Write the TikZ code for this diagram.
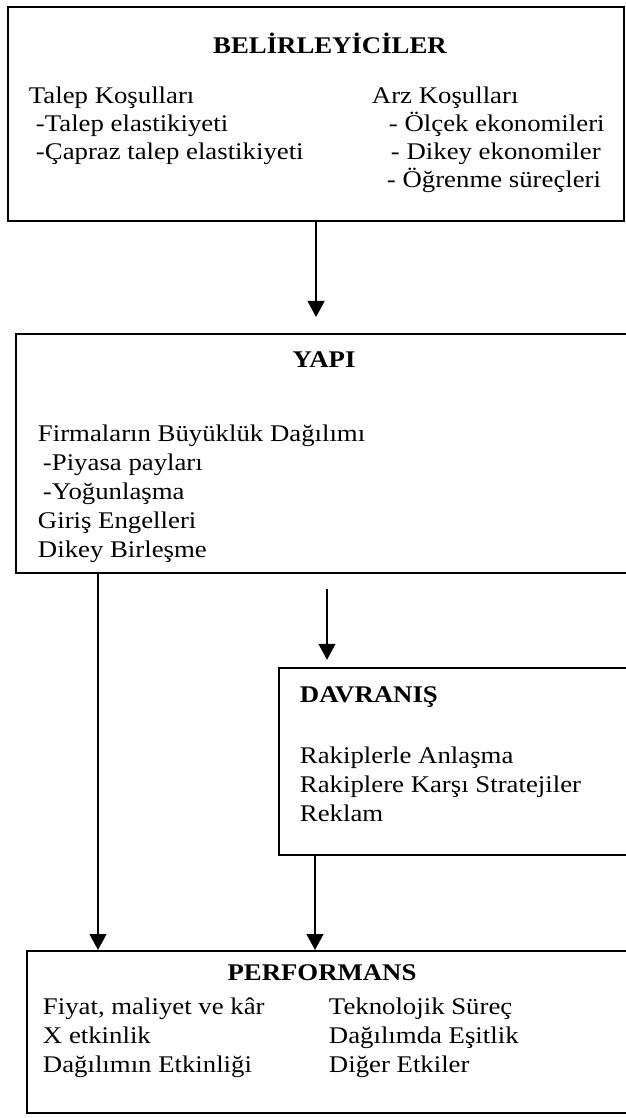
\documentclass[tikz,border=0pt]{standalone}
\usepackage{fontspec}
\setmainfont{Liberation Serif}[FakeStretch=1.12]
\usetikzlibrary{arrows.meta}

\begin{document}
\begin{tikzpicture}[x=0.025cm,y=-0.025cm,line width=1.4pt,
  every node/.append style={font=\fontsize{17}{20.5}\selectfont}]
\tikzstyle{box} = [draw,rectangle,anchor=north west,inner sep=0]
\tikzstyle{arr} = [-{Triangle[length=0.4cm,width=0.42cm]}]
\tikzstyle{txt} = [anchor=base west,inner sep=0]
\tikzstyle{ttl} = [anchor=base,inner sep=0,font=\fontsize{17}{20.5}\selectfont\bfseries]

\useasboundingbox (0,0) rectangle (625,1118);

% Belirleyiciler
\node[box,minimum width=15.4cm,minimum height=5.35cm] (belir) at (7,6) {};
\node[ttl] at (330,53) (belirttl) {BELİRLEYİCİLER};
\node[txt] at (28,103) (talep) {Talep Koşulları};
\node[txt] at (35,131) (talep1) {-Talep elastikiyeti};
\node[txt] at (35,159) (talep2) {-Çapraz talep elastikiyeti};
\node[txt] at (371,103) (arz) {Arz Koşulları};
\node[txt] at (388,131) (arz1) {- Ölçek ekonomileri};
\node[txt] at (390,159) (arz2) {- Dikey ekonomiler};
\node[txt] at (386,187) (arz3) {- Öğrenme süreçleri};

% Yapi
\node[box,minimum width=15.325cm,minimum height=5.975cm] (yapi) at (15,333) {};
\node[ttl] at (324,367) (yapittl) {YAPI};
\node[txt] at (37,441) (firma) {Firmaların Büyüklük Dağılımı};
\node[txt] at (42,470) (firma1) {-Piyasa payları};
\node[txt] at (42,499) (firma2) {-Yoğunlaşma};
\node[txt] at (37,528) (giris) {Giriş Engelleri};
\node[txt] at (37,557) (dikey) {Dikey Birleşme};

% Davranis
\node[box,minimum width=8.75cm,minimum height=4.675cm] (davr) at (278,667) {};
\node[txt,font=\fontsize{17}{20.5}\selectfont\bfseries] at (299,702) (davrttl) {DAVRANIŞ};
\node[txt] at (299,763) (rakip1) {Rakiplerle Anlaşma};
\node[txt] at (299,792) (rakip2) {Rakiplere Karşı Stratejiler};
\node[txt] at (299,821) (reklam) {Reklam};

% Performans
\node[box,minimum width=15.05cm,minimum height=4.05cm] (perf) at (26,950) {};
\node[ttl] at (322,980) (perfttl) {PERFORMANS};
\node[txt] at (42,1014) (fiyat) {Fiyat, maliyet ve kâr};
\node[txt] at (42,1043) (xetk) {X etkinlik};
\node[txt] at (42,1072) (dagetk) {Dağılımın Etkinliği};
\node[txt] at (328,1014) (tekno) {Teknolojik Süreç};
\node[txt] at (328,1043) (esit) {Dağılımda Eşitlik};
\node[txt] at (328,1072) (diger) {Diğer Etkiler};

% Oklar
\coordinate (davrin) at (327,589);
\coordinate (yapiout) at (98,572);
\coordinate (davrout) at (315,854);
\draw[arr,shorten >=0.4cm] (belir.south) -- (belir.south |- yapi.north);
\draw[arr,shorten >=0.18cm] (davrin) -- (davrin |- davr.north);
\draw[arr] (yapiout) -- (yapiout |- perf.north);
\draw[arr] (davrout) -- (davrout |- perf.north);

\end{tikzpicture}
\end{document}
